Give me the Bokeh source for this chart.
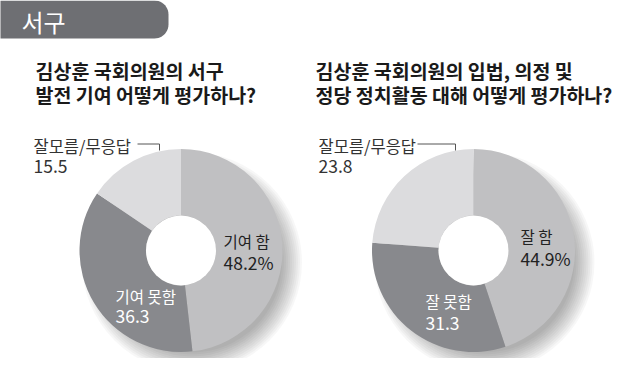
import numpy as np
from bokeh.plotting import figure
from bokeh.models import Range1d
from bokeh.embed import file_html
from bokeh.resources import INLINE
from bokeh.core.properties import value

# ---------------- data ----------------
region = "서구"
title_left = ["김상훈 국회의원의 서구", "발전 기여 어떻게 평가하나?"]
title_right = ["김상훈 국회의원의 입법, 의정 및", "정당 정치활동 대해 어떻게 평가하나?"]

left_labels = ["기여 함", "기여 못함", "잘모름/무응답"]
left_values = [48.2, 36.3, 15.5]

right_labels = ["잘 함", "잘 못함", "잘모름/무응답"]
right_values = [44.9, 31.3, 23.8]

# ---------------- style ----------------
colors = ["#c0c0c2", "#88898d", "#dcdcde"]
label_colors = ["#222222", "#ffffff", "#333333"]
label_sizes = ["15.5px", "15.5px", "16.5px"]
KR = value("Noto Sans CJK KR")
NUM = value("Noto Sans CJK KR")

W, H = 624, 358
p = figure(width=W, height=H, output_backend="svg", toolbar_location=None,
           x_range=Range1d(0, W), y_range=Range1d(H, 0),
           min_border=0, background_fill_color="white", border_fill_color="white")
p.axis.visible = False
p.grid.visible = False
p.outline_line_color = None

# header tab with rounded right end
r = 14
top_y, bot_y, right_x = 0, 38, 168
arc_t = np.linspace(-np.pi / 2, 0, 12)
arc_b = np.linspace(0, np.pi / 2, 12)
hx = [-10, right_x - r] + list(right_x - r + r * np.cos(arc_t)) + list(right_x - r + r * np.cos(arc_b)) + [right_x - r, -10]
hy = [top_y, top_y] + list(top_y + r + r * np.sin(arc_t)) + list(bot_y - r + r * np.sin(arc_b)) + [bot_y, bot_y]
p.patch(hx, hy, fill_color="#6e6f73", line_color=None)
p.text(x=[21], y=[21], text=[region], text_font=KR, text_font_size="24px",
       text_baseline="middle", text_color="white")

R_OUT, R_IN = 101.5, 35


def donut(cx, cy, vals, labels, title, title_x, title_size, lab_pos, num_pos, conn):
    # titles
    p.text(x=[title_x, title_x], y=[70, 94], text=title, text_font=KR,
           text_font_style="bold", text_font_size=title_size,
           text_baseline="middle", text_color="#1a1a1a")
    # soft shadow
    for k in range(11):
        p.circle(x=[cx + 11], y=[cy + 12], radius=90 + 2 * k,
                 fill_color="#000000", fill_alpha=0.033, line_color=None)
    fr = np.concatenate([[0], np.cumsum(vals)]) / sum(vals)
    start = list(np.pi / 2 - 2 * np.pi * fr[:-1])
    end = list(np.pi / 2 - 2 * np.pi * fr[1:])
    p.annular_wedge(x=cx, y=cy, inner_radius=R_IN, outer_radius=R_OUT,
                    start_angle=start, end_angle=end, direction="clock",
                    fill_color=colors, line_color=None)
    p.circle(x=[cx], y=[cy], radius=R_IN, fill_color="white", line_color=None)
    # labels
    nums = [f"{vals[0]}%", f"{vals[1]}", f"{vals[2]}"]
    for i in range(3):
        p.text(x=[lab_pos[i][0]], y=[lab_pos[i][1]], text=[labels[i]], text_font=KR,
               text_font_size=label_sizes[i], text_baseline="middle", text_color=label_colors[i])
        p.text(x=[num_pos[i][0]], y=[num_pos[i][1]], text=[nums[i]], text_font=NUM,
               text_font_size="17.5px", text_baseline="middle", text_color=label_colors[i])
    p.line(conn[0], conn[1], line_color="#555555", line_width=1)


donut(180.5, 250, left_values, left_labels, title_left, 35, "19.5px",
      [(223, 240), (115, 295), (33, 145)],
      [(223, 262), (115, 316), (33, 166)],
      ([137, 159, 159], [143.5, 143.5, 150]))

donut(473, 250, right_values, right_labels, title_right, 315, "19.5px",
      [(520, 235), (425, 300), (318, 145)],
      [(520, 258), (425, 323), (318, 166)],
      ([417, 455, 455], [143.5, 143.5, 150]))

open("out.html", "w").write(file_html(p, INLINE))
